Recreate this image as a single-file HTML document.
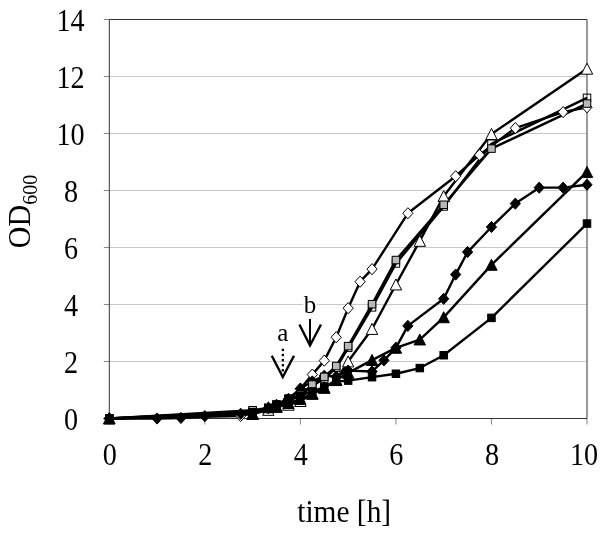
<!DOCTYPE html>
<html><head><meta charset="utf-8"><style>
html,body{margin:0;padding:0;background:#fff;}
svg{display:block;will-change:transform;}
text{font-family:"Liberation Serif",serif;fill:#000;}
</style></head><body>
<svg width="600" height="533" viewBox="0 0 600 533">
<rect width="600" height="533" fill="#fff"/>
<line x1="109.30" y1="361.50" x2="587.00" y2="361.50" stroke="#c8c8c8" stroke-width="1"/>
<line x1="109.30" y1="304.50" x2="587.00" y2="304.50" stroke="#c8c8c8" stroke-width="1"/>
<line x1="109.30" y1="247.50" x2="587.00" y2="247.50" stroke="#c8c8c8" stroke-width="1"/>
<line x1="109.30" y1="190.50" x2="587.00" y2="190.50" stroke="#c8c8c8" stroke-width="1"/>
<line x1="109.30" y1="133.50" x2="587.00" y2="133.50" stroke="#c8c8c8" stroke-width="1"/>
<line x1="109.30" y1="76.50" x2="587.00" y2="76.50" stroke="#c8c8c8" stroke-width="1"/>
<line x1="103.80" y1="418.50" x2="109.30" y2="418.50" stroke="#888" stroke-width="1"/>
<line x1="103.80" y1="361.50" x2="109.30" y2="361.50" stroke="#888" stroke-width="1"/>
<line x1="103.80" y1="304.50" x2="109.30" y2="304.50" stroke="#888" stroke-width="1"/>
<line x1="103.80" y1="247.50" x2="109.30" y2="247.50" stroke="#888" stroke-width="1"/>
<line x1="103.80" y1="190.50" x2="109.30" y2="190.50" stroke="#888" stroke-width="1"/>
<line x1="103.80" y1="133.50" x2="109.30" y2="133.50" stroke="#888" stroke-width="1"/>
<line x1="103.80" y1="76.50" x2="109.30" y2="76.50" stroke="#888" stroke-width="1"/>
<line x1="103.80" y1="19.50" x2="109.30" y2="19.50" stroke="#888" stroke-width="1"/>
<line x1="109.30" y1="418.50" x2="109.30" y2="424.50" stroke="#888" stroke-width="1"/>
<line x1="204.84" y1="418.50" x2="204.84" y2="424.50" stroke="#888" stroke-width="1"/>
<line x1="300.38" y1="418.50" x2="300.38" y2="424.50" stroke="#888" stroke-width="1"/>
<line x1="395.92" y1="418.50" x2="395.92" y2="424.50" stroke="#888" stroke-width="1"/>
<line x1="491.46" y1="418.50" x2="491.46" y2="424.50" stroke="#888" stroke-width="1"/>
<line x1="587.00" y1="418.50" x2="587.00" y2="424.50" stroke="#888" stroke-width="1"/>
<line x1="587.00" y1="19.50" x2="587.00" y2="418.50" stroke="#999" stroke-width="2"/>
<line x1="109.30" y1="19.50" x2="587.00" y2="19.50" stroke="#333" stroke-width="1"/>
<line x1="109.30" y1="418.50" x2="587.00" y2="418.50" stroke="#333" stroke-width="1"/>
<line x1="109.30" y1="19.50" x2="109.30" y2="418.50" stroke="#333" stroke-width="1"/>
<path d="M109.30 418.50 L240.67 415.94 L252.61 412.80 L268.37 408.52 L276.50 405.11 L288.44 399.69 L300.38 388.86 L312.32 374.61 L324.26 360.64 L336.21 337.27 L348.15 308.20 L360.09 281.70 L372.04 269.16 L407.86 213.30 L455.63 176.25 L479.52 154.88 L515.35 128.09 L563.12 112.12 L587.00 107.28" fill="none" stroke="#000" stroke-width="2.4" stroke-linejoin="round"/>
<path d="M109.30 418.50 L252.61 414.08 L268.37 409.95 L276.50 406.81 L288.44 404.82 L300.38 401.12 L312.32 393.85 L324.26 387.86 L336.21 380.17 L348.15 361.50 L372.04 329.01 L395.92 284.55 L419.81 240.94 L443.69 196.20 L491.46 134.07 L587.00 68.81" fill="none" stroke="#000" stroke-width="2.4" stroke-linejoin="round"/>
<path d="M109.30 418.50 L252.61 411.09 L268.37 408.52 L276.50 405.39 L288.44 400.83 L300.38 395.70 L312.32 386.01 L324.26 378.60 L336.21 367.77 L348.15 347.82 L372.04 307.35 L395.92 263.46 L443.69 206.46 L491.46 143.76 L587.00 97.88" fill="none" stroke="#000" stroke-width="2.4" stroke-linejoin="round"/>
<path d="M109.30 418.50 L252.61 410.24 L268.37 407.95 L276.50 404.82 L288.44 399.69 L300.38 394.56 L312.32 384.58 L324.26 376.89 L336.21 366.06 L348.15 346.11 L372.04 304.22 L395.92 260.04 L443.69 204.75 L491.46 148.60 L587.00 103.57" fill="none" stroke="#000" stroke-width="2.4" stroke-linejoin="round"/>
<path d="M109.30 418.50 L157.07 418.50 L180.95 417.93 L204.84 416.22 L240.67 413.80 L252.61 412.80 L268.37 408.24 L276.50 404.82 L288.44 398.83 L300.38 388.57 L312.32 381.45 L324.26 375.75 L336.21 376.61 L348.15 370.62 L372.04 371.48 L383.98 360.36 L395.92 347.82 L407.86 325.88 L443.69 298.80 L455.63 274.58 L467.58 252.06 L491.46 226.98 L515.35 203.61 L539.23 187.65 L563.12 187.65 L587.00 184.80" fill="none" stroke="#000" stroke-width="2.4" stroke-linejoin="round"/>
<path d="M109.30 418.50 L252.61 413.94 L268.37 407.38 L276.50 406.81 L288.44 403.11 L300.38 399.12 L312.32 393.70 L324.26 387.72 L336.21 380.02 L348.15 372.90 L372.04 360.07 L395.92 347.82 L419.81 339.56 L443.69 317.32 L491.46 264.88 L587.00 171.97" fill="none" stroke="#000" stroke-width="2.4" stroke-linejoin="round"/>
<path d="M109.30 418.50 L252.61 412.23 L268.37 407.81 L276.50 404.39 L288.44 398.55 L300.38 395.70 L312.32 391.43 L324.26 387.15 L336.21 381.45 L348.15 380.60 L372.04 377.18 L395.92 373.75 L419.81 368.06 L443.69 355.23 L491.46 317.89 L587.00 223.56" fill="none" stroke="#000" stroke-width="2.4" stroke-linejoin="round"/>
<path d="M109.30 412.90L114.40 418.50L109.30 424.10L104.20 418.50Z" fill="#fff" stroke="#000" stroke-width="1"/>
<path d="M240.67 410.33L245.77 415.94L240.67 421.54L235.57 415.94Z" fill="#fff" stroke="#000" stroke-width="1"/>
<path d="M252.61 407.20L257.71 412.80L252.61 418.40L247.51 412.80Z" fill="#fff" stroke="#000" stroke-width="1"/>
<path d="M268.37 402.92L273.47 408.52L268.37 414.12L263.27 408.52Z" fill="#fff" stroke="#000" stroke-width="1"/>
<path d="M276.50 399.50L281.60 405.11L276.50 410.71L271.39 405.11Z" fill="#fff" stroke="#000" stroke-width="1"/>
<path d="M288.44 394.09L293.54 399.69L288.44 405.29L283.34 399.69Z" fill="#fff" stroke="#000" stroke-width="1"/>
<path d="M300.38 383.26L305.48 388.86L300.38 394.46L295.28 388.86Z" fill="#fff" stroke="#000" stroke-width="1"/>
<path d="M312.32 369.01L317.42 374.61L312.32 380.21L307.22 374.61Z" fill="#fff" stroke="#000" stroke-width="1"/>
<path d="M324.26 355.04L329.37 360.64L324.26 366.25L319.16 360.64Z" fill="#fff" stroke="#000" stroke-width="1"/>
<path d="M336.21 331.67L341.31 337.27L336.21 342.88L331.11 337.27Z" fill="#fff" stroke="#000" stroke-width="1"/>
<path d="M348.15 302.60L353.25 308.20L348.15 313.81L343.05 308.20Z" fill="#fff" stroke="#000" stroke-width="1"/>
<path d="M360.09 276.10L365.19 281.70L360.09 287.30L354.99 281.70Z" fill="#fff" stroke="#000" stroke-width="1"/>
<path d="M372.04 263.56L377.14 269.16L372.04 274.76L366.94 269.16Z" fill="#fff" stroke="#000" stroke-width="1"/>
<path d="M407.86 207.70L412.96 213.30L407.86 218.90L402.76 213.30Z" fill="#fff" stroke="#000" stroke-width="1"/>
<path d="M455.63 170.65L460.73 176.25L455.63 181.85L450.53 176.25Z" fill="#fff" stroke="#000" stroke-width="1"/>
<path d="M479.52 149.28L484.62 154.88L479.52 160.47L474.42 154.88Z" fill="#fff" stroke="#000" stroke-width="1"/>
<path d="M515.35 122.49L520.45 128.09L515.35 133.69L510.25 128.09Z" fill="#fff" stroke="#000" stroke-width="1"/>
<path d="M563.12 106.53L568.22 112.12L563.12 117.72L558.01 112.12Z" fill="#fff" stroke="#000" stroke-width="1"/>
<path d="M587.00 101.68L592.10 107.28L587.00 112.88L581.90 107.28Z" fill="#fff" stroke="#000" stroke-width="1"/>
<rect x="105.55" y="414.75" width="7.5" height="7.5" fill="none" stroke="#000" stroke-width="1"/>
<rect x="248.86" y="407.34" width="7.5" height="7.5" fill="none" stroke="#000" stroke-width="1"/>
<rect x="264.62" y="404.77" width="7.5" height="7.5" fill="none" stroke="#000" stroke-width="1"/>
<rect x="272.75" y="401.64" width="7.5" height="7.5" fill="none" stroke="#000" stroke-width="1"/>
<rect x="284.69" y="397.08" width="7.5" height="7.5" fill="none" stroke="#000" stroke-width="1"/>
<rect x="296.63" y="391.95" width="7.5" height="7.5" fill="none" stroke="#000" stroke-width="1"/>
<rect x="308.57" y="382.26" width="7.5" height="7.5" fill="none" stroke="#000" stroke-width="1"/>
<rect x="320.51" y="374.85" width="7.5" height="7.5" fill="none" stroke="#000" stroke-width="1"/>
<rect x="332.46" y="364.02" width="7.5" height="7.5" fill="none" stroke="#000" stroke-width="1"/>
<rect x="344.40" y="344.07" width="7.5" height="7.5" fill="none" stroke="#000" stroke-width="1"/>
<rect x="368.29" y="303.60" width="7.5" height="7.5" fill="none" stroke="#000" stroke-width="1"/>
<rect x="392.17" y="259.71" width="7.5" height="7.5" fill="none" stroke="#000" stroke-width="1"/>
<rect x="439.94" y="202.71" width="7.5" height="7.5" fill="none" stroke="#000" stroke-width="1"/>
<rect x="487.71" y="140.01" width="7.5" height="7.5" fill="none" stroke="#000" stroke-width="1"/>
<rect x="583.25" y="94.12" width="7.5" height="7.5" fill="none" stroke="#000" stroke-width="1"/>
<path d="M109.30 412.90L115.00 423.90L103.60 423.90Z" fill="#fff" stroke="#000" stroke-width="1"/>
<path d="M252.61 408.48L258.31 419.48L246.91 419.48Z" fill="#fff" stroke="#000" stroke-width="1"/>
<path d="M268.37 404.35L274.07 415.35L262.67 415.35Z" fill="#fff" stroke="#000" stroke-width="1"/>
<path d="M276.50 401.21L282.19 412.21L270.80 412.21Z" fill="#fff" stroke="#000" stroke-width="1"/>
<path d="M288.44 399.22L294.14 410.22L282.74 410.22Z" fill="#fff" stroke="#000" stroke-width="1"/>
<path d="M300.38 395.51L306.08 406.51L294.68 406.51Z" fill="#fff" stroke="#000" stroke-width="1"/>
<path d="M312.32 388.25L318.02 399.25L306.62 399.25Z" fill="#fff" stroke="#000" stroke-width="1"/>
<path d="M324.26 382.26L329.96 393.26L318.56 393.26Z" fill="#fff" stroke="#000" stroke-width="1"/>
<path d="M336.21 374.57L341.91 385.57L330.51 385.57Z" fill="#fff" stroke="#000" stroke-width="1"/>
<path d="M348.15 355.90L353.85 366.90L342.45 366.90Z" fill="#fff" stroke="#000" stroke-width="1"/>
<path d="M372.04 323.41L377.74 334.41L366.34 334.41Z" fill="#fff" stroke="#000" stroke-width="1"/>
<path d="M395.92 278.95L401.62 289.95L390.22 289.95Z" fill="#fff" stroke="#000" stroke-width="1"/>
<path d="M419.81 235.34L425.50 246.34L414.11 246.34Z" fill="#fff" stroke="#000" stroke-width="1"/>
<path d="M443.69 190.60L449.39 201.60L437.99 201.60Z" fill="#fff" stroke="#000" stroke-width="1"/>
<path d="M491.46 128.47L497.16 139.47L485.76 139.47Z" fill="#fff" stroke="#000" stroke-width="1"/>
<path d="M587.00 63.21L592.70 74.21L581.30 74.21Z" fill="#fff" stroke="#000" stroke-width="1"/>
<path d="M109.30 412.90L114.40 418.50L109.30 424.10L104.20 418.50Z" fill="#000" stroke="#000" stroke-width="1"/>
<path d="M157.07 412.90L162.17 418.50L157.07 424.10L151.97 418.50Z" fill="#000" stroke="#000" stroke-width="1"/>
<path d="M180.95 412.33L186.05 417.93L180.95 423.53L175.85 417.93Z" fill="#000" stroke="#000" stroke-width="1"/>
<path d="M204.84 410.62L209.94 416.22L204.84 421.82L199.74 416.22Z" fill="#000" stroke="#000" stroke-width="1"/>
<path d="M240.67 408.20L245.77 413.80L240.67 419.40L235.57 413.80Z" fill="#000" stroke="#000" stroke-width="1"/>
<path d="M252.61 407.20L257.71 412.80L252.61 418.40L247.51 412.80Z" fill="#000" stroke="#000" stroke-width="1"/>
<path d="M268.37 402.64L273.47 408.24L268.37 413.84L263.27 408.24Z" fill="#000" stroke="#000" stroke-width="1"/>
<path d="M276.50 399.22L281.60 404.82L276.50 410.42L271.39 404.82Z" fill="#000" stroke="#000" stroke-width="1"/>
<path d="M288.44 393.23L293.54 398.83L288.44 404.44L283.34 398.83Z" fill="#000" stroke="#000" stroke-width="1"/>
<path d="M300.38 382.97L305.48 388.57L300.38 394.18L295.28 388.57Z" fill="#000" stroke="#000" stroke-width="1"/>
<path d="M312.32 375.85L317.42 381.45L312.32 387.05L307.22 381.45Z" fill="#000" stroke="#000" stroke-width="1"/>
<path d="M324.26 370.15L329.37 375.75L324.26 381.35L319.16 375.75Z" fill="#000" stroke="#000" stroke-width="1"/>
<path d="M336.21 371.00L341.31 376.61L336.21 382.21L331.11 376.61Z" fill="#000" stroke="#000" stroke-width="1"/>
<path d="M348.15 365.02L353.25 370.62L348.15 376.22L343.05 370.62Z" fill="#000" stroke="#000" stroke-width="1"/>
<path d="M372.04 365.88L377.14 371.48L372.04 377.08L366.94 371.48Z" fill="#000" stroke="#000" stroke-width="1"/>
<path d="M383.98 354.76L389.08 360.36L383.98 365.96L378.88 360.36Z" fill="#000" stroke="#000" stroke-width="1"/>
<path d="M395.92 342.22L401.02 347.82L395.92 353.42L390.82 347.82Z" fill="#000" stroke="#000" stroke-width="1"/>
<path d="M407.86 320.27L412.96 325.88L407.86 331.48L402.76 325.88Z" fill="#000" stroke="#000" stroke-width="1"/>
<path d="M443.69 293.20L448.79 298.80L443.69 304.40L438.59 298.80Z" fill="#000" stroke="#000" stroke-width="1"/>
<path d="M455.63 268.98L460.73 274.58L455.63 280.18L450.53 274.58Z" fill="#000" stroke="#000" stroke-width="1"/>
<path d="M467.58 246.46L472.68 252.06L467.58 257.66L462.48 252.06Z" fill="#000" stroke="#000" stroke-width="1"/>
<path d="M491.46 221.38L496.56 226.98L491.46 232.58L486.36 226.98Z" fill="#000" stroke="#000" stroke-width="1"/>
<path d="M515.35 198.01L520.45 203.61L515.35 209.21L510.25 203.61Z" fill="#000" stroke="#000" stroke-width="1"/>
<path d="M539.23 182.05L544.33 187.65L539.23 193.25L534.13 187.65Z" fill="#000" stroke="#000" stroke-width="1"/>
<path d="M563.12 182.05L568.22 187.65L563.12 193.25L558.01 187.65Z" fill="#000" stroke="#000" stroke-width="1"/>
<path d="M587.00 179.20L592.10 184.80L587.00 190.40L581.90 184.80Z" fill="#000" stroke="#000" stroke-width="1"/>
<rect x="105.55" y="414.75" width="7.5" height="7.5" fill="#b8b8b8" stroke="#000" stroke-width="1"/>
<rect x="248.86" y="406.49" width="7.5" height="7.5" fill="#b8b8b8" stroke="#000" stroke-width="1"/>
<rect x="264.62" y="404.20" width="7.5" height="7.5" fill="#b8b8b8" stroke="#000" stroke-width="1"/>
<rect x="272.75" y="401.07" width="7.5" height="7.5" fill="#b8b8b8" stroke="#000" stroke-width="1"/>
<rect x="284.69" y="395.94" width="7.5" height="7.5" fill="#b8b8b8" stroke="#000" stroke-width="1"/>
<rect x="296.63" y="390.81" width="7.5" height="7.5" fill="#b8b8b8" stroke="#000" stroke-width="1"/>
<rect x="308.57" y="380.83" width="7.5" height="7.5" fill="#b8b8b8" stroke="#000" stroke-width="1"/>
<rect x="320.51" y="373.14" width="7.5" height="7.5" fill="#b8b8b8" stroke="#000" stroke-width="1"/>
<rect x="332.46" y="362.31" width="7.5" height="7.5" fill="#b8b8b8" stroke="#000" stroke-width="1"/>
<rect x="344.40" y="342.36" width="7.5" height="7.5" fill="#b8b8b8" stroke="#000" stroke-width="1"/>
<rect x="368.29" y="300.47" width="7.5" height="7.5" fill="#b8b8b8" stroke="#000" stroke-width="1"/>
<rect x="392.17" y="256.29" width="7.5" height="7.5" fill="#b8b8b8" stroke="#000" stroke-width="1"/>
<rect x="439.94" y="201.00" width="7.5" height="7.5" fill="#b8b8b8" stroke="#000" stroke-width="1"/>
<rect x="487.71" y="144.85" width="7.5" height="7.5" fill="#b8b8b8" stroke="#000" stroke-width="1"/>
<rect x="583.25" y="99.82" width="7.5" height="7.5" fill="#b8b8b8" stroke="#000" stroke-width="1"/>
<path d="M109.30 412.90L115.00 423.90L103.60 423.90Z" fill="#000" stroke="#000" stroke-width="1"/>
<path d="M252.61 408.34L258.31 419.34L246.91 419.34Z" fill="#000" stroke="#000" stroke-width="1"/>
<path d="M268.37 401.78L274.07 412.78L262.67 412.78Z" fill="#000" stroke="#000" stroke-width="1"/>
<path d="M276.50 401.21L282.19 412.21L270.80 412.21Z" fill="#000" stroke="#000" stroke-width="1"/>
<path d="M288.44 397.51L294.14 408.51L282.74 408.51Z" fill="#000" stroke="#000" stroke-width="1"/>
<path d="M300.38 393.52L306.08 404.52L294.68 404.52Z" fill="#000" stroke="#000" stroke-width="1"/>
<path d="M312.32 388.10L318.02 399.10L306.62 399.10Z" fill="#000" stroke="#000" stroke-width="1"/>
<path d="M324.26 382.12L329.96 393.12L318.56 393.12Z" fill="#000" stroke="#000" stroke-width="1"/>
<path d="M336.21 374.42L341.91 385.42L330.51 385.42Z" fill="#000" stroke="#000" stroke-width="1"/>
<path d="M348.15 367.30L353.85 378.30L342.45 378.30Z" fill="#000" stroke="#000" stroke-width="1"/>
<path d="M372.04 354.47L377.74 365.47L366.34 365.47Z" fill="#000" stroke="#000" stroke-width="1"/>
<path d="M395.92 342.22L401.62 353.22L390.22 353.22Z" fill="#000" stroke="#000" stroke-width="1"/>
<path d="M419.81 333.95L425.50 344.95L414.11 344.95Z" fill="#000" stroke="#000" stroke-width="1"/>
<path d="M443.69 311.72L449.39 322.72L437.99 322.72Z" fill="#000" stroke="#000" stroke-width="1"/>
<path d="M491.46 259.28L497.16 270.28L485.76 270.28Z" fill="#000" stroke="#000" stroke-width="1"/>
<path d="M587.00 166.38L592.70 177.38L581.30 177.38Z" fill="#000" stroke="#000" stroke-width="1"/>
<rect x="105.55" y="414.75" width="7.5" height="7.5" fill="#000" stroke="#000" stroke-width="1"/>
<rect x="248.86" y="408.48" width="7.5" height="7.5" fill="#000" stroke="#000" stroke-width="1"/>
<rect x="264.62" y="404.06" width="7.5" height="7.5" fill="#000" stroke="#000" stroke-width="1"/>
<rect x="272.75" y="400.64" width="7.5" height="7.5" fill="#000" stroke="#000" stroke-width="1"/>
<rect x="284.69" y="394.80" width="7.5" height="7.5" fill="#000" stroke="#000" stroke-width="1"/>
<rect x="296.63" y="391.95" width="7.5" height="7.5" fill="#000" stroke="#000" stroke-width="1"/>
<rect x="308.57" y="387.68" width="7.5" height="7.5" fill="#000" stroke="#000" stroke-width="1"/>
<rect x="320.51" y="383.40" width="7.5" height="7.5" fill="#000" stroke="#000" stroke-width="1"/>
<rect x="332.46" y="377.70" width="7.5" height="7.5" fill="#000" stroke="#000" stroke-width="1"/>
<rect x="344.40" y="376.85" width="7.5" height="7.5" fill="#000" stroke="#000" stroke-width="1"/>
<rect x="368.29" y="373.43" width="7.5" height="7.5" fill="#000" stroke="#000" stroke-width="1"/>
<rect x="392.17" y="370.00" width="7.5" height="7.5" fill="#000" stroke="#000" stroke-width="1"/>
<rect x="416.06" y="364.31" width="7.5" height="7.5" fill="#000" stroke="#000" stroke-width="1"/>
<rect x="439.94" y="351.48" width="7.5" height="7.5" fill="#000" stroke="#000" stroke-width="1"/>
<rect x="487.71" y="314.14" width="7.5" height="7.5" fill="#000" stroke="#000" stroke-width="1"/>
<rect x="583.25" y="219.81" width="7.5" height="7.5" fill="#000" stroke="#000" stroke-width="1"/>
<rect x="303.1" y="294" width="13.6" height="20" fill="#fff"/>
<text x="310" y="312.5" font-size="25" text-anchor="middle">b</text>
<text x="282.8" y="340.5" font-size="25" text-anchor="middle">a</text>
<line x1="310" y1="319" x2="310" y2="345" stroke="#000" stroke-width="2"/>
<polyline points="299.4,324.5 310,345.5 321,324.5" fill="none" stroke="#000" stroke-width="2.4"/>
<rect x="281.7" y="348.75" width="2.3" height="2.3" fill="#000"/>
<rect x="281.7" y="353.85" width="2.3" height="2.3" fill="#000"/>
<rect x="281.7" y="358.95" width="2.3" height="2.3" fill="#000"/>
<rect x="281.7" y="364.05" width="2.3" height="2.3" fill="#000"/>
<rect x="281.7" y="369.15" width="2.3" height="2.3" fill="#000"/>
<polyline points="271.8,355.8 282.8,377 294,355.8" fill="none" stroke="#000" stroke-width="2.4"/>
<text transform="translate(71.00,430.10) scale(0.94,1.08)" font-size="30" text-anchor="middle">0</text>
<text transform="translate(71.00,373.10) scale(0.94,1.08)" font-size="30" text-anchor="middle">2</text>
<text transform="translate(71.00,316.10) scale(0.94,1.08)" font-size="30" text-anchor="middle">4</text>
<text transform="translate(71.00,259.10) scale(0.94,1.08)" font-size="30" text-anchor="middle">6</text>
<text transform="translate(71.00,202.10) scale(0.94,1.08)" font-size="30" text-anchor="middle">8</text>
<text transform="translate(70.50,145.10) scale(0.94,1.08)" font-size="30" text-anchor="middle">10</text>
<text transform="translate(70.50,88.10) scale(0.94,1.08)" font-size="30" text-anchor="middle">12</text>
<text transform="translate(70.50,31.10) scale(0.94,1.08)" font-size="30" text-anchor="middle">14</text>
<text transform="translate(109.80,465.00) scale(0.94,1.08)" font-size="30" text-anchor="middle">0</text>
<text transform="translate(205.34,465.00) scale(0.94,1.08)" font-size="30" text-anchor="middle">2</text>
<text transform="translate(300.88,465.00) scale(0.94,1.08)" font-size="30" text-anchor="middle">4</text>
<text transform="translate(396.42,465.00) scale(0.94,1.08)" font-size="30" text-anchor="middle">6</text>
<text transform="translate(491.96,465.00) scale(0.94,1.08)" font-size="30" text-anchor="middle">8</text>
<text transform="translate(584.10,465.00) scale(0.94,1.08)" font-size="30" text-anchor="middle">10</text>
<text transform="translate(344.20,522.00) scale(0.98,1.08)" font-size="30" text-anchor="middle">time [h]</text>
<text transform="translate(30,248.2) rotate(-90) scale(1,1.067)" font-size="30">OD<tspan font-size="20" dy="7">600</tspan></text>
</svg>
</body></html>
